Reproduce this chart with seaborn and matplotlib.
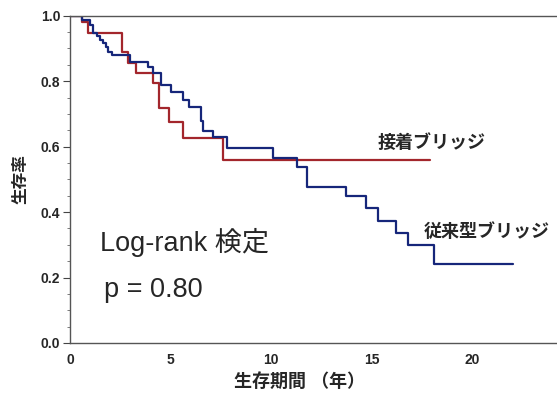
import numpy as np
import pandas as pd
import matplotlib
matplotlib.use("Agg")
import matplotlib.pyplot as plt
import seaborn as sns

# Kaplan-Meier steps (time in years, survival after the step)
adhesive_t = [0.0, 0.6, 0.9, 2.6, 2.9, 3.3, 4.1, 4.4, 4.9, 5.6, 7.6, 17.9]
adhesive_s = [1.0, 0.982, 0.948, 0.890, 0.856, 0.826, 0.795, 0.719, 0.676, 0.627, 0.560, 0.560]

conventional_t = [0.0, 0.6, 1.0, 1.14, 1.34, 1.49, 1.64, 1.79, 1.89, 2.09, 2.99, 3.88,
                  4.1, 4.5, 5.0, 5.6, 5.9, 6.5, 6.6, 7.1, 7.8, 10.1, 11.3, 11.8,
                  13.7, 14.7, 15.3, 16.2, 16.8, 18.1, 22.0]
conventional_s = [1.0, 0.988, 0.972, 0.948, 0.939, 0.927, 0.917, 0.905, 0.890, 0.881, 0.859, 0.844,
                  0.824, 0.789, 0.768, 0.743, 0.722, 0.679, 0.648, 0.630, 0.596, 0.566, 0.538, 0.477,
                  0.450, 0.413, 0.373, 0.336, 0.300, 0.242, 0.242]

group_names = ["接着ブリッジ", "従来型ブリッジ"]
x_ticks = [0, 5, 10, 15, 20]
y_ticks = [0.0, 0.2, 0.4, 0.6, 0.8, 1.0]

df = pd.concat([
    pd.DataFrame({"time": adhesive_t, "surv": adhesive_s, "group": group_names[0]}),
    pd.DataFrame({"time": conventional_t, "surv": conventional_s, "group": group_names[1]}),
])

sns.set_style("ticks")
plt.rcParams['font.family'] = ['Liberation Sans', 'Noto Sans CJK JP']

fig = plt.figure(figsize=(5.57, 3.94), dpi=100)
ax = fig.add_axes([70 / 557, 51 / 394, 487 / 557, 327.3 / 394])

palette = {group_names[0]: "#a3262c", group_names[1]: "#16267a"}
sns.lineplot(data=df, x="time", y="surv", hue="group", palette=palette,
             drawstyle="steps-post", linewidth=1.6, legend=False, ax=ax,
             estimator=None, sort=False)

ax.set_xlim(0, 24.2)
ax.set_ylim(0, 1.0)
ax.set_xticks(x_ticks)
ax.set_yticks(y_ticks)
ax.set_xticklabels([str(v) for v in x_ticks], fontsize=10, fontweight="bold")
ax.set_yticklabels([f"{v:.1f}" for v in y_ticks], fontsize=10, fontweight="bold")
ax.set_yticks(np.arange(0, 1.0001, 0.05), minor=True)
ax.tick_params(axis="x", which="major", length=0, pad=7)
ax.tick_params(axis="y", which="major", length=5, width=0.8, pad=2, color="#444444")
ax.tick_params(axis="y", which="minor", length=2, width=0.6, color="#666666")

for side in ["left", "bottom", "top"]:
    ax.spines[side].set_color("#555555")
    ax.spines[side].set_linewidth(1.0)
ax.spines["right"].set_visible(False)

ax.set_xlabel("生存期間 （年）", fontsize=13, fontweight="bold")
ax.set_ylabel("生存率", fontsize=12, fontweight="bold")
ax.xaxis.set_label_coords(0.472, -0.092)
ax.yaxis.set_label_coords(-0.086, 0.5)

ax.text(15.3, 0.612, group_names[0], fontsize=13, fontweight="bold", va="center")
ax.text(17.56, 0.339, group_names[1], fontsize=13, fontweight="bold", va="center")
ax.text(1.49, 0.306, "Log-rank 検定", fontsize=19.5, va="center")
ax.text(1.69, 0.162, "p = 0.80", fontsize=19.5, va="center")

fig.savefig("out.png", dpi=100)
